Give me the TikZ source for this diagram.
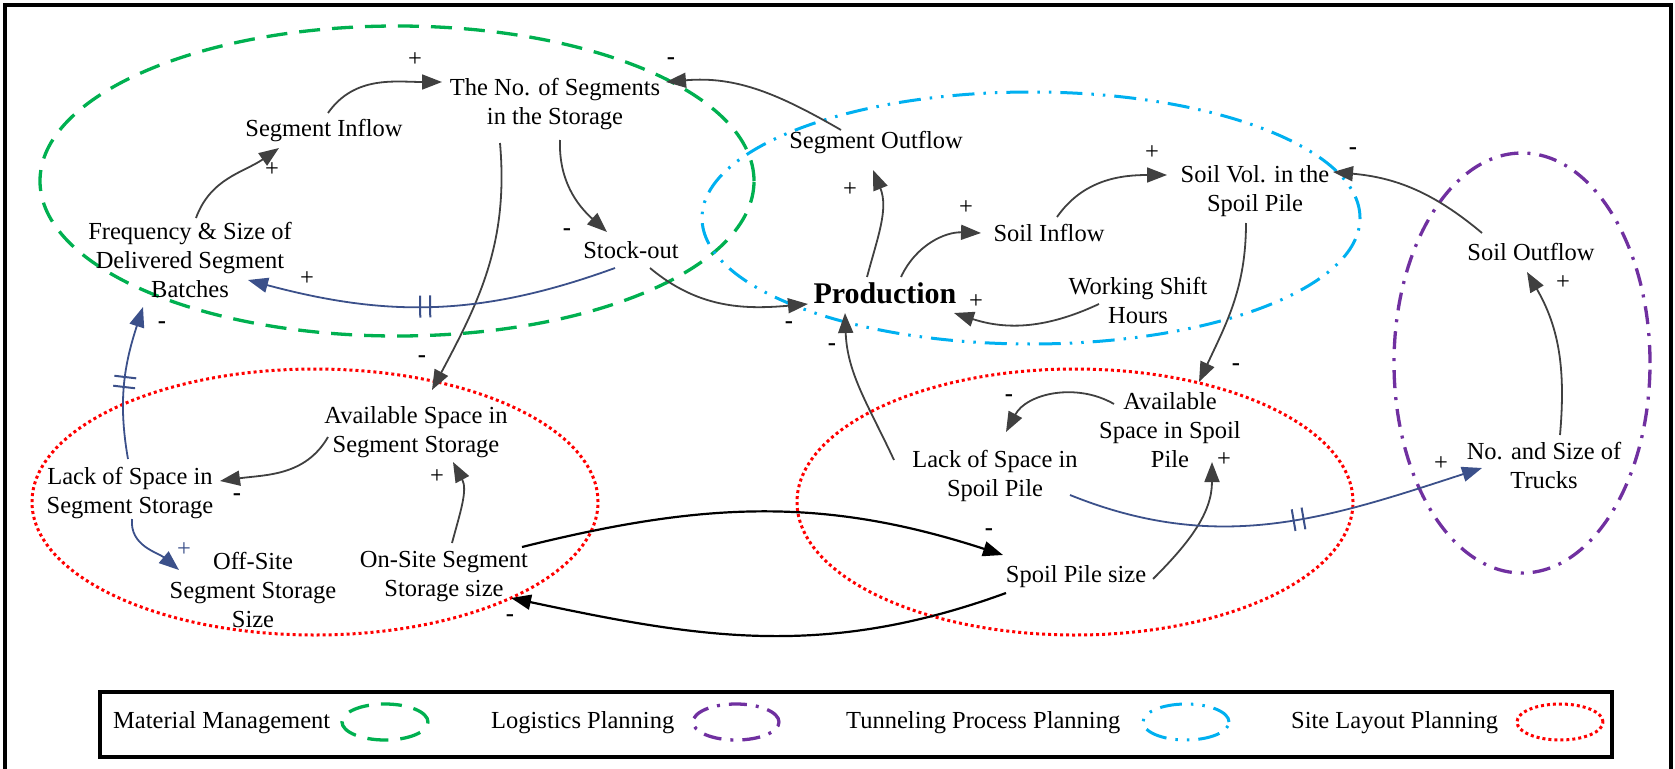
\documentclass[tikz,border=0pt]{standalone}
\usepackage{fontspec}
\setmainfont{Liberation Serif}
\usetikzlibrary{arrows.meta,calc,decorations.markings}
\definecolor{mmgreen}{RGB}{0,176,80}
\definecolor{tpblue}{RGB}{0,176,240}
\definecolor{lgpurple}{RGB}{112,48,160}
\definecolor{slred}{RGB}{255,0,0}
\definecolor{arrgrey}{RGB}{64,64,64}
\definecolor{dblue}{RGB}{59,80,138}
\begin{document}
\begin{tikzpicture}[x=1pt,y=1pt,
  lbl/.style={font=\fontsize{24.5}{29}\selectfont, align=center, inner sep=0pt},
  pol/.style={font=\fontsize{24.5}{29}\selectfont, inner sep=0pt},
  arr/.style={draw=arrgrey, line width=1.8pt, -{Triangle[length=20pt,width=15pt]}},
  darr/.style={draw=dblue, line width=1.8pt, -{Triangle[length=20pt,width=15pt]}},
  barr/.style={draw=black, line width=2.2pt, -{Triangle[length=20pt,width=15pt]}},
  delaymk/.style={postaction={decorate,decoration={markings, mark=at position #1 with {\draw[-, dblue, line width=2pt] (-5pt,-11pt) -- (-5pt,11pt) (5pt,-11pt) -- (5pt,11pt);}}}},
  mmline/.style={draw=mmgreen, line width=3.3pt, dash pattern=on 21pt off 12pt},
  tpline/.style={draw=tpblue, line width=3pt, dash pattern=on 22pt off 9pt on 2.5pt off 9pt on 2.5pt off 9pt},
  lgline/.style={draw=lgpurple, line width=3.3pt, dash pattern=on 18pt off 9pt on 3pt off 9pt},
  slline/.style={draw=slred, line width=3pt, dash pattern=on 3pt off 3pt}
]
\useasboundingbox (0,0) rectangle (1675,-768);
% outer frame
\draw[line width=3.5pt] (5,-800) -- (5,-5) -- (1671,-5) -- (1671,-800);

% region ellipses
\draw[mmline] (397,-181) ellipse [x radius=357pt, y radius=155pt];
\draw[tpline] (1031,-218) ellipse [x radius=329pt, y radius=126pt];
\draw[lgline] (1522,-363) ellipse [x radius=128pt, y radius=210pt];
\draw[slline] (315,-502) ellipse [x radius=283pt, y radius=133pt];
\draw[slline] (1075,-502) ellipse [x radius=278pt, y radius=133pt];

% variables
\node[lbl] (segs) at (555,-104) {The No. of Segments\\in the Storage};
\node[lbl] (inflow) at (324,-131) {Segment Inflow};
\node[lbl] (freq) at (190,-260) {Frequency \& Size of\\Delivered Segment\\Batches};
\node[lbl] (stock) at (631,-250) {Stock-out};
\node[lbl] (outflow) at (876,-143) {Segment Outflow};
\node[lbl, font=\fontsize{30}{34}\selectfont\bfseries] (prod) at (885,-293) {Production};
\node[lbl] (soilin) at (1049,-233) {Soil Inflow};
\node[lbl] (soilvol) at (1255,-191) {Soil Vol. in the\\Spoil Pile};
\node[lbl] (shift) at (1138,-300) {Working Shift\\Hours};
\node[lbl] (soilout) at (1531,-252) {Soil Outflow};
\node[lbl] (trucks) at (1544,-465) {No. and Size of\\Trucks};
\node[lbl] (avspoil) at (1170,-430) {Available\\Space in Spoil\\Pile};
\node[lbl] (lackspoil) at (995,-476) {Lack of Space in\\Spoil Pile};
\node[lbl] (spoilsize) at (1076,-577) {Spoil Pile size};
\node[lbl] (avseg) at (416,-432) {Available Space in\\Segment Storage};
\node[lbl] (lackseg) at (130,-493) {Lack of Space in\\Segment Storage};
\node[lbl] (offsite) at (253,-590) {Off-Site\\Segment Storage\\Size};
\node[lbl] (onsite) at (444,-577) {On-Site Segment\\Storage size};

% causal links
\draw[arr] ($(inflow)+(4,18)$) to[out=55,in=180] ($(segs)+(-113,22)$);
\draw[arr] ($(freq)+(6,42)$) to[out=70,in=215] ($(inflow)+(-45,-17)$);
\draw[arr] ($(segs)+(5,-36)$) to[out=-92,in=138] ($(stock)+(-24,18)$);
\draw[arr] ($(segs)+(-55,-39)$) to[out=-85,in=62] ($(avseg)+(16,42)$);
\draw[arr] ($(outflow)+(-35,13)$) to[out=150,in=5] ($(segs)+(111,22)$);
\draw[arr] ($(prod)+(-18,16)$) to[out=75,in=-68] ($(outflow)+(-3,-27)$);
\draw[arr] ($(prod)+(16,16)$) to[out=65,in=178] ($(soilin)+(-68,0)$);
\draw[arr] ($(soilin)+(8,16)$) to[out=55,in=180] ($(soilvol)+(-88,16)$);
\draw[arr] ($(shift)+(-39,-4)$) to[out=205,in=-18] ($(prod)+(69,-20)$);
\draw[arr] ($(stock)+(19,-18)$) to[out=-40,in=185] ($(prod)+(-77,-11)$);
\draw[arr] ($(soilout)+(-49,19)$) to[out=140,in=-5] ($(soilvol)+(78,19)$);
\draw[arr] ($(trucks)+(16,30)$) to[out=85,in=-60] ($(soilout)+(-4,-20)$);
\draw[arr] ($(soilvol)+(-9,-32)$) to[out=-90,in=65] ($(avspoil)+(29,48)$);
\draw[arr] ($(avspoil)+(-56,26)$) to[out=150,in=62] ($(lackspoil)+(11,44)$);
\draw[arr] ($(lackspoil)+(-101,16)$) to[out=115,in=-88] ($(prod)+(-40,-20)$);
\draw[arr] ($(spoilsize)+(77,-2)$) to[out=45,in=-90] ($(avspoil)+(42,-32)$);
\draw[darr, delaymk=0.55] ($(lackspoil)+(75,-19)$) to[out=-22,in=198] ($(trucks)+(-62,-3)$);
\draw[arr] ($(avseg)+(-88,-5)$) to[out=-120,in=8] ($(lackseg)+(90,12)$);
\draw[arr] ($(onsite)+(8,34)$) to[out=75,in=-62] ($(avseg)+(37,-30)$);
\draw[darr] ($(lackseg)+(2,-26)$) to[out=-95,in=140] ($(offsite)+(-74,20)$);
\draw[darr, delaymk=0.5] ($(lackseg)+(-2,34)$) to[out=100,in=-108] ($(freq)+(-47,-47)$);
\draw[darr, delaymk=0.52] ($(stock)+(-16,-18)$) to[out=-160,in=-15] ($(freq)+(58,-20)$);
\draw[barr] ($(onsite)+(78,30)$) to[out=14,in=162] ($(spoilsize)+(-73,22)$);
\draw[barr] ($(spoilsize)+(-70,-16)$) to[out=-160,in=-12] ($(onsite)+(67,-21)$);

% polarities
\node[pol] (pa) at (415,-60) {+};
\node[pol] (pb) at (272,-170) {+};
\node[pol] (pc) at (567,-232) {\textbf{-}};
\node[pol] (pd) at (422,-359) {\textbf{-}};
\node[pol] (pe) at (671,-61) {\textbf{-}};
\node[pol] (pf) at (850,-190) {+};
\node[pol] (pg) at (966,-208) {+};
\node[pol] (ph) at (1152,-153) {+};
\node[pol] (pi) at (976,-302) {+};
\node[pol] (pj) at (789,-325) {\textbf{-}};
\node[pol] (pk) at (1353,-151) {\textbf{-}};
\node[pol] (pl) at (1563,-283) {+};
\node[pol] (pm) at (1236,-367) {\textbf{-}};
\node[pol] (pn) at (1009,-398) {\textbf{-}};
\node[pol] (po) at (832,-347) {\textbf{-}};
\node[pol] (pp) at (1224,-460) {+};
\node[pol] (pq) at (1441,-464) {+};
\node[pol] (pr) at (237,-497) {\textbf{-}};
\node[pol] (ps) at (437,-477) {+};
\node[pol, text=dblue] (pt) at (184,-550) {+};
\node[pol] (pu) at (162,-325) {\textbf{-}};
\node[pol] (pv) at (307,-279) {+};
\node[pol] (pw) at (989,-532) {\textbf{-}};
\node[pol] (px) at (510,-618) {\textbf{-}};

% legend
\draw[line width=4pt] (100,-692) rectangle (1612,-757);
\node[lbl, anchor=west] (lg1) at (113,-723) {Material Management};
\draw[mmline] (385,-722) ellipse [x radius=43pt, y radius=18pt];
\node[lbl, anchor=west] (lg2) at (491,-723) {Logistics Planning};
\draw[lgline] (736,-722) ellipse [x radius=43pt, y radius=18pt];
\node[lbl, anchor=west] (lg3) at (846,-723) {Tunneling Process Planning};
\draw[tpline] (1186,-722) ellipse [x radius=43pt, y radius=18pt];
\node[lbl, anchor=west] (lg4) at (1291,-723) {Site Layout Planning};
\draw[slline] (1560,-722) ellipse [x radius=43pt, y radius=18pt];
\end{tikzpicture}
\end{document}
